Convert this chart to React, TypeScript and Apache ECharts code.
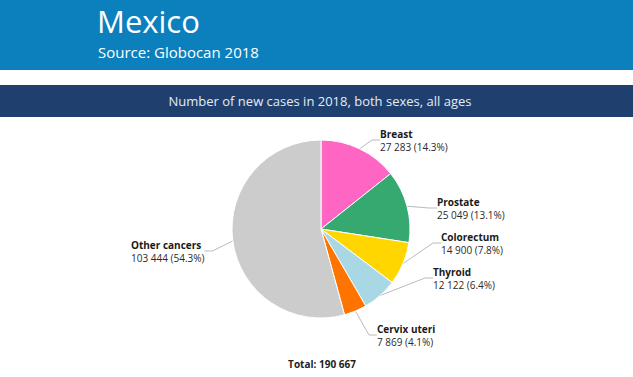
import React, { useEffect, useRef } from "react";
import * as echarts from "echarts";

const categories = ["Breast", "Prostate", "Colorectum", "Thyroid", "Cervix uteri", "Other cancers"];
const values = [27283, 25049, 14900, 12122, 7869, 103444];
const colors = ["#ff66c4", "#35a96f", "#ffd600", "#a8d8e4", "#ff7300", "#cccccc"];
const titleText = "Mexico";
const sourceText = "Source: Globocan 2018";
const bannerText = "Number of new cases in 2018, both sexes, all ages";

// label anchor positions (layout, top-left of label block)
const labelPos = [
  { x: 380, y: 127 },
  { x: 437, y: 195 },
  { x: 441, y: 230 },
  { x: 433, y: 265 },
  { x: 377, y: 322 },
  { x: 131, y: 238 },
];

const fmt = (n: number) => String(n).replace(/\B(?=(\d{3})+(?!\d))/g, " ");

export default function App() {
  const ref = useRef<HTMLDivElement>(null);
  useEffect(() => {
    document.body.style.margin = "0";
    const chart = echarts.init(ref.current!, null, { renderer: "svg" });
    const total = values.reduce((a, b) => a + b, 0);
    const font = "'Open Sans', 'Noto Sans', sans-serif";
    chart.setOption({
      animation: false,
      backgroundColor: "#ffffff",
      textStyle: { fontFamily: font },
      graphic: [
        { type: "rect", shape: { x: 0, y: 0, width: 633, height: 70 }, style: { fill: "#0b80bd" }, silent: true },
        { type: "rect", shape: { x: 0, y: 85, width: 633, height: 32 }, style: { fill: "#1f3f6f" }, silent: true },
        { type: "text", x: 97, y: 21, style: { text: titleText, fill: "#ffffff", font: `31px ${font}`, verticalAlign: "middle" } },
        { type: "text", x: 98, y: 52, style: { text: sourceText, fill: "#ffffff", font: `15px ${font}`, verticalAlign: "middle" } },
        { type: "text", x: 320, y: 101, style: { text: bannerText, fill: "#e4ecf4", font: `13px ${font}`, align: "center", verticalAlign: "middle" } },
        { type: "text", x: 322, y: 364, style: { text: "Total: " + fmt(total), fill: "#222222", font: `bold 10px ${font}`, align: "center", verticalAlign: "middle" } },
      ],
      series: [
        {
          type: "pie",
          center: [321, 229],
          radius: 89,
          startAngle: 90,
          clockwise: true,
          itemStyle: { borderColor: "#ffffff", borderWidth: 1 },
          data: categories.map((c, i) => ({ name: c, value: values[i], itemStyle: { color: colors[i] } })),
          label: {
            show: true,
            formatter: (p: any) => `{n|${p.name}}\n{v|${fmt(p.value)} (${((p.value / total) * 100).toFixed(1)}%)}`,
            rich: {
              n: { fontFamily: font, fontWeight: "bold", fontSize: 10, color: "#1a1a1a", lineHeight: 13 },
              v: { fontFamily: font, fontSize: 10, color: "#2a2a2a", lineHeight: 13 },
            },
          },
          labelLine: { show: true, length: 8, length2: 8, lineStyle: { color: "#bbbbbb", width: 1 } },
          labelLayout: (params: any) => {
            const p = labelPos[params.dataIndex];
            return { x: p.x, y: p.y, align: "left", verticalAlign: "top" };
          },
        },
      ],
    });
    return () => chart.dispose();
  }, []);
  return <div ref={ref} style={{ width: 633, height: 377 }} />;
}
